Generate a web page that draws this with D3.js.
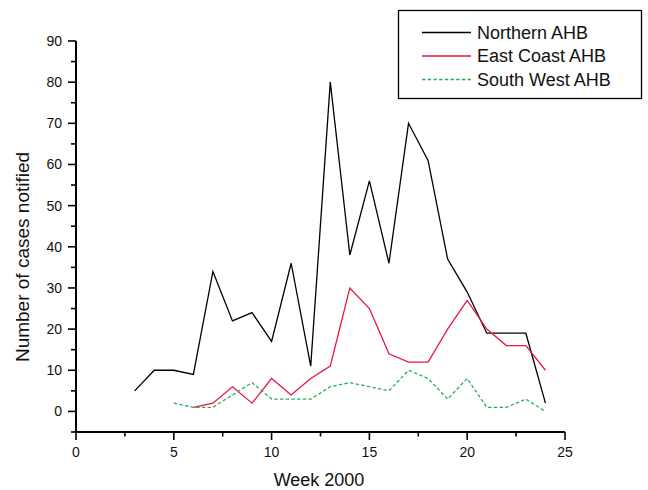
<!DOCTYPE html>
<html>
<head>
<meta charset="utf-8">
<script src="https://cdn.jsdelivr.net/npm/d3@7"></script>
<style>
  body { margin: 0; background: #fff; }
  svg { display: block; font-family: "Liberation Sans", Arial, sans-serif; }
</style>
</head>
<body>
<svg id="chart" width="648" height="490"></svg>
<script>
// Weekly notifications, week 2000
const northernWeeks = [3, 4, 5, 6, 7, 8, 9, 10, 11, 12, 13, 14, 15, 16, 17, 18, 19, 20, 21, 22, 23, 24];
const northernCases = [5, 10, 10, 9, 34, 22, 24, 17, 36, 11, 80, 38, 56, 36, 70, 61, 37, 29, 19, 19, 19, 2];

const eastWeeks = [6, 7, 8, 9, 10, 11, 12, 13, 14, 15, 16, 17, 18, 19, 20, 21, 22, 23, 24];
const eastCases = [1, 2, 6, 2, 8, 4, 8, 11, 30, 25, 14, 12, 12, 20, 27, 20, 16, 16, 10];

const southWeeks = [5, 6, 7, 8, 9, 10, 11, 12, 13, 14, 15, 16, 17, 18, 19, 20, 21, 22, 23, 24];
const southCases = [2, 1, 1, 4, 7, 3, 3, 3, 6, 7, 6, 5, 10, 8, 3, 8, 1, 1, 3, 0];

const xTicks = [0, 5, 10, 15, 20, 25];
const yTicks = [0, 10, 20, 30, 40, 50, 60, 70, 80, 90];

const series = [
  { name: 'Northern AHB', weeks: northernWeeks, values: northernCases, color: '#000000', dash: null },
  { name: 'East Coast AHB', weeks: eastWeeks, values: eastCases, color: '#e8173f', dash: null },
  { name: 'South West AHB', weeks: southWeeks, values: southCases, color: '#2bb05a', dash: '3.5,2.2' }
];

const svg = d3.select('#chart');

// plot area
const plot = { left: 76, right: 565, top: 41, bottom: 432 };

const x = d3.scaleLinear().domain([0, 25]).range([plot.left, plot.right]);
const y = d3.scaleLinear().domain([-5, 90]).range([plot.bottom, plot.top]);

// x axis
const xAxis = svg.append('g').attr('transform', `translate(0,${plot.bottom})`);
xAxis.append('line')
  .attr('x1', x(0)).attr('x2', x(25))
  .attr('stroke', '#000').attr('stroke-width', 2);
d3.range(0, 25.01, 2.5).forEach(v => {
  const major = v % 5 === 0;
  xAxis.append('line')
    .attr('x1', x(v)).attr('x2', x(v))
    .attr('y1', 0).attr('y2', major ? 8 : 4.5)
    .attr('stroke', '#000').attr('stroke-width', 1.6);
});
xAxis.selectAll('text.tick')
  .data(xTicks)
  .enter().append('text')
  .attr('x', d => x(d))
  .attr('y', 25)
  .attr('text-anchor', 'middle')
  .attr('font-size', 14)
  .attr('fill', '#111')
  .text(d => d);

// y axis
const yAxis = svg.append('g').attr('transform', `translate(${plot.left},0)`);
yAxis.append('line')
  .attr('y1', y(-5)).attr('y2', y(90))
  .attr('stroke', '#000').attr('stroke-width', 2);
d3.range(-5, 90.01, 5).forEach(v => {
  const major = v % 10 === 0;
  yAxis.append('line')
    .attr('x1', 0).attr('x2', major ? -8 : -5)
    .attr('y1', y(v)).attr('y2', y(v))
    .attr('stroke', '#000').attr('stroke-width', 1.6);
});
yAxis.selectAll('text.tick')
  .data(yTicks)
  .enter().append('text')
  .attr('x', -14)
  .attr('y', d => y(d))
  .attr('dy', '0.35em')
  .attr('text-anchor', 'end')
  .attr('font-size', 14)
  .attr('fill', '#111')
  .text(d => d);

// axis titles
svg.append('text')
  .attr('x', 319).attr('y', 486)
  .attr('text-anchor', 'middle')
  .attr('font-size', 18)
  .attr('fill', '#111')
  .text('Week 2000');

svg.append('text')
  .attr('transform', 'translate(29,257) rotate(-90)')
  .attr('text-anchor', 'middle')
  .attr('font-size', 19)
  .attr('fill', '#111')
  .text('Number of cases notified');

// lines
const line = d3.line()
  .x(d => x(d[0]))
  .y(d => y(d[1]));

series.forEach(s => {
  svg.append('path')
    .datum(d3.zip(s.weeks, s.values))
    .attr('fill', 'none')
    .attr('stroke', s.color)
    .attr('stroke-width', 1.3)
    .attr('stroke-dasharray', s.dash)
    .attr('stroke-linejoin', 'miter')
    .attr('d', line);
});

// legend
const legend = svg.append('g');
legend.append('rect')
  .attr('x', 398.5).attr('y', 10.5)
  .attr('width', 243).attr('height', 88)
  .attr('fill', '#fff')
  .attr('stroke', '#000')
  .attr('stroke-width', 1.3);

series.forEach((s, i) => {
  const ly = 32.5 + i * 23.5;
  legend.append('line')
    .attr('x1', 422).attr('x2', 471)
    .attr('y1', ly).attr('y2', ly)
    .attr('stroke', s.color)
    .attr('stroke-width', 1.3)
    .attr('stroke-dasharray', s.dash);
  legend.append('text')
    .attr('x', 477).attr('y', ly)
    .attr('dy', '0.35em')
    .attr('font-size', 18)
    .attr('fill', '#111')
    .text(s.name);
});
</script>
</body>
</html>
